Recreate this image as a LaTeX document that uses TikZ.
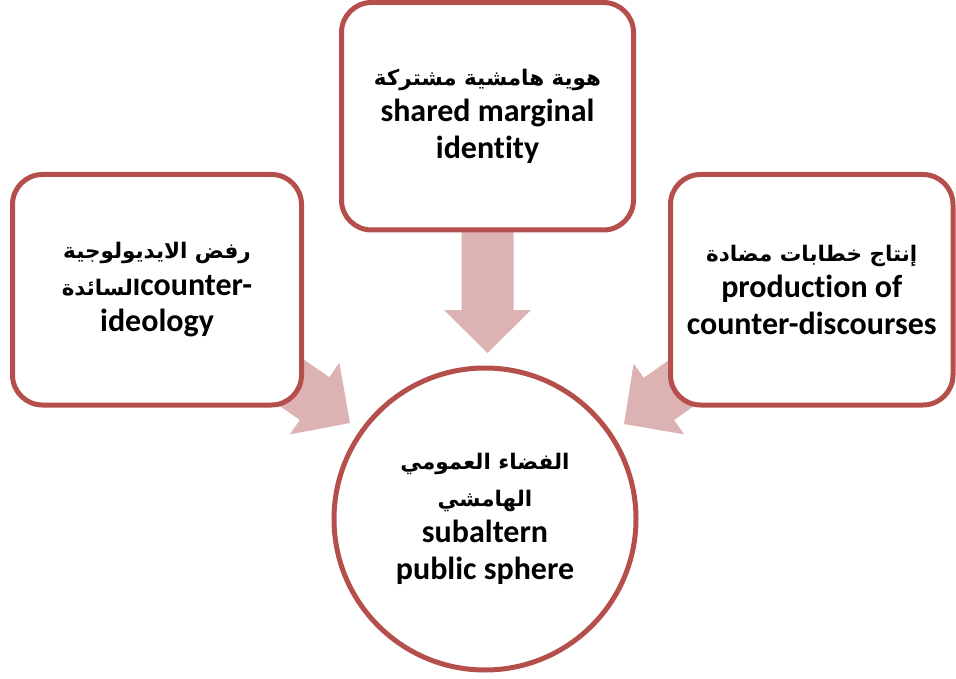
\documentclass[tikz,border=0pt]{standalone}
\usepackage{fontspec}
\setmainfont{Carlito}[Ligatures=NoCommon]
\newfontfamily\arabicfont[Script=Arabic]{DejaVu Sans}
\TeXXeTstate=1
\usetikzlibrary{calc,backgrounds}

\definecolor{rim}{HTML}{B44F4B}
\definecolor{flow}{HTML}{DDB2B2}

% Arabic run set right to left in a bold face
\newcommand\arabictext[1]{{\arabicfont\bfseries\fontsize{21.5}{36}\selectfont\beginR #1\endR}}

% Broad block arrow from #1 to the tip #2
\newcommand\blockarrow[2]{%
  \path ($(#2)!43pt!(#1)$) coordinate (headbase);
  \fill[flow] ($(#1)!26pt!90:(#2)$) -- ($(headbase)!26pt!90:(#2)$)
    -- ($(headbase)!43.5pt!90:(#2)$) -- (#2)
    -- ($(headbase)!43.5pt!-90:(#2)$) -- ($(headbase)!26pt!-90:(#2)$)
    -- ($(#1)!26pt!-90:(#2)$) -- cycle;
}

\tikzset{
  labeltext/.style={align=center, font=\fontsize{32}{36.5}\selectfont\bfseries, text=black},
  card/.style={labeltext, draw=rim, line width=5pt, fill=white,
    rounded corners=30pt, inner sep=0pt},
  hubdisc/.style={labeltext, circle, draw=rim, line width=5pt, fill=white,
    minimum size=302pt, inner sep=0pt},
}

\begin{document}
\begin{tikzpicture}[x=1pt, y=-1pt]
  \useasboundingbox (0,0) rectangle (956,679);

  \node[card, minimum width=289pt, minimum height=230.5pt] (lb) at (157,289.75)
    {\arabictext{رفض الايديولوجية}\\ \arabictext{السائدة}counter-\\ ideology};
  \node[card, minimum width=292pt, minimum height=227.5pt] (tb) at (487.5,116.25)
    {\arabictext{هوية هامشية مشتركة}\\ shared marginal\\ identity};
  \node[card, minimum width=282.5pt, minimum height=230.5pt] (rb) at (811.75,289.75)
    {\arabictext{إنتاج خطابات مضادة}\\ production of\\ counter-discourses};
  \node[hubdisc] (hub) at (485,519)
    {\arabictext{الفضاء العمومي}\\ \arabictext{الهامشي}\\ subaltern\\ public sphere};

  \coordinate (ltip) at (350,423);
  \coordinate (ttip) at (487.5,353);
  \coordinate (rtip) at (624,424);

  \begin{scope}[on background layer]
    \blockarrow{lb.center}{ltip}
    \blockarrow{tb.center}{ttip}
    \blockarrow{rb.center}{rtip}
  \end{scope}
\end{tikzpicture}
\end{document}
